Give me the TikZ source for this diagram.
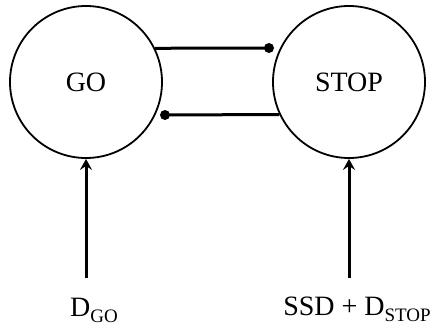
\documentclass[tikz,border=0pt]{standalone}
\usepackage{fontspec}
\setmainfont{Liberation Serif}
\usetikzlibrary{arrows.meta}
\tikzset{
  unit/.style={circle, draw, line width=1.8pt, minimum size=152pt, inner sep=0pt,
               font=\fontsize{28}{30}\selectfont},
  link/.style={line width=3pt},
  drive/.style={line width=3pt, {Stealth[length=11pt,width=12pt,inset=4pt]}-},
  lbl/.style={inner sep=0pt, anchor=base, font=\fontsize{28}{30}\selectfont},
}
\newcommand{\subtxt}[1]{\raisebox{-0.22em}{\fontsize{19}{20}\selectfont #1}}
\begin{document}
\begin{tikzpicture}[x=1pt,y=-1pt]
  \useasboundingbox (0,0) rectangle (435,329);
  % the two units
  \node[unit] (go) at (86,82) {GO};
  \node[unit] (stop) at (349,82) {STOP};
  % mutual inhibition links ending in dots
  \coordinate (dotA) at (269,48);
  \coordinate (dotB) at (165,115);
  \draw[link] (go.26.6) -- (dotA);
  \fill (dotA) circle (5pt);
  \draw[link] (stop.205.7) -- (dotB);
  \fill (dotB) circle (5pt);
  % inputs
  \node[lbl] (dgo) at (94,316) {D\subtxt{GO}};
  \node[lbl] (dstop) at (357,315) {SSD + D\subtxt{STOP}};
  \draw[drive] (go.south) -- (go.south |- 0,278);
  \draw[drive] (stop.south) -- (stop.south |- 0,278);
\end{tikzpicture}
\end{document}
